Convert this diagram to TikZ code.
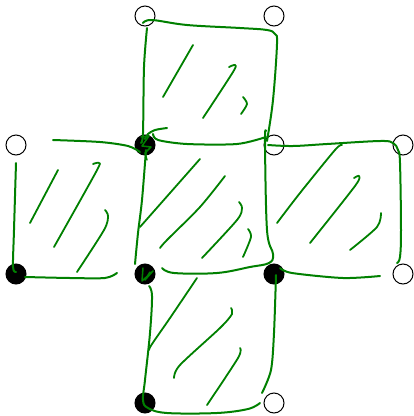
\documentclass[tikz,border=0pt]{standalone}
\usepackage{tikz}
\definecolor{mygreen}{RGB}{0,128,0}
\tikzset{
  opendot/.style={circle, draw=black, line width=1pt, minimum size=20pt, inner sep=0pt},
  fulldot/.style={circle, draw=black, fill=black, line width=1pt, minimum size=20pt, inner sep=0pt},
  pen/.style={color=mygreen, line width=2pt, line cap=round, line join=round},
  hatch/.style={color=mygreen, line width=1.8pt, line cap=round, line join=round}
}
\begin{document}
\begin{tikzpicture}[x=1pt, y=-1pt]
  \useasboundingbox (0,0) rectangle (414,416);
  % Grid points
  \foreach \name/\px/\py in {a/145/16, b/274/16, c/16/145, e/274/145, f/403/145, k/403/274, n/274/403}
    \node[opendot] (\name) at (\px,\py) {};
  \foreach \name/\px/\py in {d/145/145, g/16/274, h/145/274, m/274/274, p/145/403}
    \node[fulldot] (\name) at (\px,\py) {};
  % Top square
  \draw[pen] plot[smooth, tension=0.6] coordinates {(143,23) (152,20) (187,25) (240,28) (267,30) (275,34) (277,44) (273,100) (267,141)};
  \draw[pen] plot[smooth] coordinates {(147,28) (144,67) (143,133) (141,143)};
  \draw[pen] plot[smooth] coordinates {(153,134) (158,140) (187,144) (237,144) (266,137)};
  \draw[pen] plot[smooth] coordinates {(167,128) (155,130) (148,134) (145,139)};
  \draw[hatch] (193,45) -- (163,97);
  \draw[hatch] plot[smooth] coordinates {(229,67) (235,65) (233,72) (203,118)};
  \draw[hatch] plot[smooth] coordinates {(243,97) (247,104) (241,114)};
  % Left square
  \draw[pen] plot[smooth] coordinates {(53,140) (100,142) (128,146) (140,152)};
  \draw[pen] plot[smooth] coordinates {(16,163) (14,230) (13,267) (16,272)};
  \draw[pen] plot[smooth] coordinates {(25,277) (70,278) (105,278) (117,273)};
  \draw[hatch] (58,170) -- (30,223);
  \draw[hatch] plot[smooth] coordinates {(93,164) (99,163) (96,172) (54,247)};
  \draw[hatch] plot[smooth] coordinates {(105,210) (108,216) (104,230) (77,272)};
  % Centre square
  \draw[pen] plot[smooth] coordinates {(146,150) (142,200) (138,233) (135,264)};
  \draw[pen] plot[smooth, tension=0.6] coordinates {(266,131) (265,142) (267,230) (273,254) (269,263) (250,267) (217,273) (174,273) (162,268)};
  \draw[hatch] (200,159) -- (140,227);
  \draw[hatch] plot[smooth] coordinates {(225,176) (200,207) (167,240) (160,248)};
  \draw[hatch] plot[smooth] coordinates {(239,202) (242,208) (237,220) (202,258)};
  \draw[hatch] plot[smooth] coordinates {(248,229) (251,237) (243,257)};
  % Right square
  \draw[pen] plot[smooth, tension=0.6] coordinates {(268,145) (293,146) (327,144) (380,141) (393,143) (398,150) (400,163) (401,230) (400,257) (397,263)};
  \draw[pen] plot[smooth] coordinates {(280,268) (292,273) (343,278) (380,276)};
  \draw[hatch] plot[smooth] coordinates {(342,145) (335,150) (300,193) (277,223)};
  \draw[hatch] plot[smooth] coordinates {(354,178) (359,176) (355,186) (310,243)};
  \draw[hatch] plot[smooth] coordinates {(381,213) (377,227) (350,250)};
  % Bottom square
  \draw[pen] plot[smooth, tension=0.6] coordinates {(149,286) (152,296) (150,333) (145,380) (143,400) (148,408) (167,413) (217,413) (248,409) (260,403)};
  \draw[pen] plot[smooth] coordinates {(276,275) (274,333) (271,370) (262,393)};
  \draw[hatch] plot[smooth] coordinates {(197,278) (170,318) (152,344) (149,350)};
  \draw[hatch] plot[smooth] coordinates {(231,308) (232,314) (220,328) (180,365) (174,378)};
  \draw[hatch] plot[smooth] coordinates {(240,348) (238,358) (207,405)};
  % Scribbles inside dots
  \draw[hatch, line width=1.5pt] (141,137) -- (149,136) -- (142,146) -- (151,147) -- (145,153) -- (147,160);
  \draw[hatch, line width=1.5pt] (143,268) -- (142,281) -- (153,271) -- (145,280) -- (150,272);
\end{tikzpicture}
\end{document}
